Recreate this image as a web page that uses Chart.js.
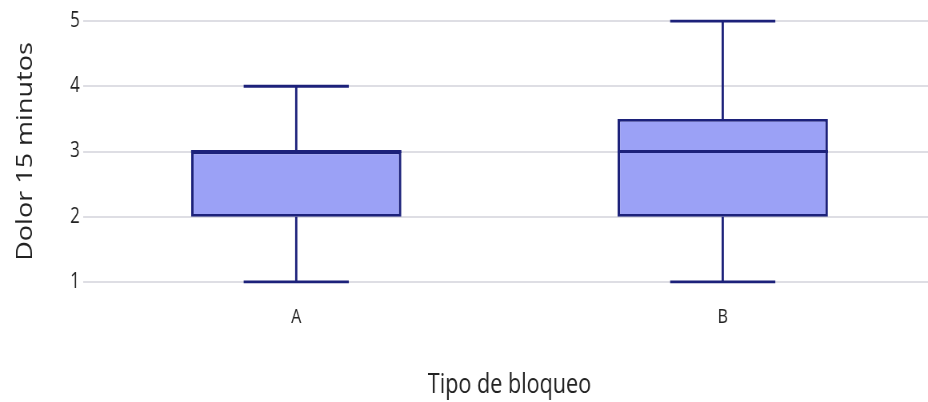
<!DOCTYPE html>
<html>
<head>
<meta charset="utf-8">
<script src="https://cdn.jsdelivr.net/npm/chart.js@4/dist/chart.umd.min.js"></script>
<style>
  html, body { margin: 0; padding: 0; background: #ffffff; }
  #wrap { width: 928px; height: 402px; overflow: hidden; position: relative; }
  #inner { width: 1175px; height: 402px; transform: scaleX(0.8); transform-origin: 0 0; }
  canvas { display: block; }
</style>
</head>
<body>
<div id="wrap"><div id="inner"><canvas id="c" width="1175" height="402"></canvas></div></div>
<script>
// Box-plot summary per blocking type
const categories = ['A', 'B'];
const lowerWhisker = [1, 1];
const q1 = [2, 2];
const median = [3, 3];
const q3 = [3, 3.5];
const upperWhisker = [4, 5];
const yTicks = [1, 2, 3, 4, 5];

const boxFill = 'rgb(155,161,246)';
const boxLine = 'rgb(28,33,122)';
const textColor = '#222222';
const fontFamily = '"Open Sans", "Noto Sans", sans-serif';

// Whiskers, caps and median lines drawn on top of the floating box bars
const whiskerPlugin = {
  id: 'whiskers',
  afterDatasetsDraw(chart) {
    const meta = chart.getDatasetMeta(0);
    const y = chart.scales.y;
    const ctx = chart.ctx;
    ctx.save();
    ctx.strokeStyle = boxLine;
    ctx.lineWidth = 2.8;
    meta.data.forEach((bar, i) => {
      const props = bar.getProps(['x', 'width'], true);
      const cx = props.x;
      const half = props.width / 2;
      const capHalf = half / 2;
      const yLow = y.getPixelForValue(lowerWhisker[i]);
      const yQ1 = y.getPixelForValue(q1[i]);
      const yQ3 = y.getPixelForValue(q3[i]);
      const yHigh = y.getPixelForValue(upperWhisker[i]);
      const yMed = y.getPixelForValue(median[i]);
      ctx.beginPath();
      // whisker stems
      ctx.moveTo(cx, yQ1); ctx.lineTo(cx, yLow);
      ctx.moveTo(cx, yQ3); ctx.lineTo(cx, yHigh);
      // caps
      ctx.moveTo(cx - capHalf, yLow); ctx.lineTo(cx + capHalf, yLow);
      ctx.moveTo(cx - capHalf, yHigh); ctx.lineTo(cx + capHalf, yHigh);
      // median
      ctx.moveTo(cx - half, yMed); ctx.lineTo(cx + half, yMed);
      ctx.stroke();
    });
    ctx.restore();
  }
};

new Chart(document.getElementById('c'), {
  type: 'bar',
  data: {
    labels: categories,
    datasets: [{
      data: categories.map((_, i) => [q1[i], q3[i]]),
      backgroundColor: boxFill,
      borderColor: boxLine,
      borderWidth: { top: 2.8, bottom: 2.8, left: 3.2, right: 3.2 },
      borderSkipped: false,
      categoryPercentage: 1,
      barPercentage: 0.493
    }]
  },
  options: {
    responsive: false,
    devicePixelRatio: 1,
    animation: false,
    layout: { padding: { top: 8, right: 5, bottom: 0, left: 0 } },
    plugins: { legend: { display: false }, tooltip: { enabled: false } },
    scales: {
      x: {
        grid: { display: false, drawTicks: false },
        border: { display: false },
        ticks: { color: textColor, font: { family: fontFamily, size: 20 }, padding: 10 },
        title: {
          display: true, text: 'Tipo de bloqueo', color: textColor,
          font: { family: fontFamily, size: 27 }, padding: { top: 3, bottom: 0 }
        },
        afterFit(scale) {
          scale.height = 107;
          scale.paddingLeft = 0;
          scale.paddingRight = 0;
        }
      },
      y: {
        min: 0.8, max: 5.2,
        afterBuildTicks(scale) { scale.ticks = yTicks.map(v => ({ value: v })); },
        grid: { color: 'rgb(222,222,228)', lineWidth: 2, drawTicks: false },
        border: { display: false },
        ticks: { color: textColor, font: { family: fontFamily, size: 21 }, padding: 4 },
        title: {
          display: true, text: 'Dolor 15 minutos', color: textColor,
          font: { family: fontFamily, size: 27 }, padding: { top: 16, bottom: 0 }
        },
        afterFit(scale) {
          scale.width = 103.75;
          scale.paddingTop = 0;
          scale.paddingBottom = 0;
        }
      }
    }
  },
  plugins: [whiskerPlugin]
});
</script>
</body>
</html>
